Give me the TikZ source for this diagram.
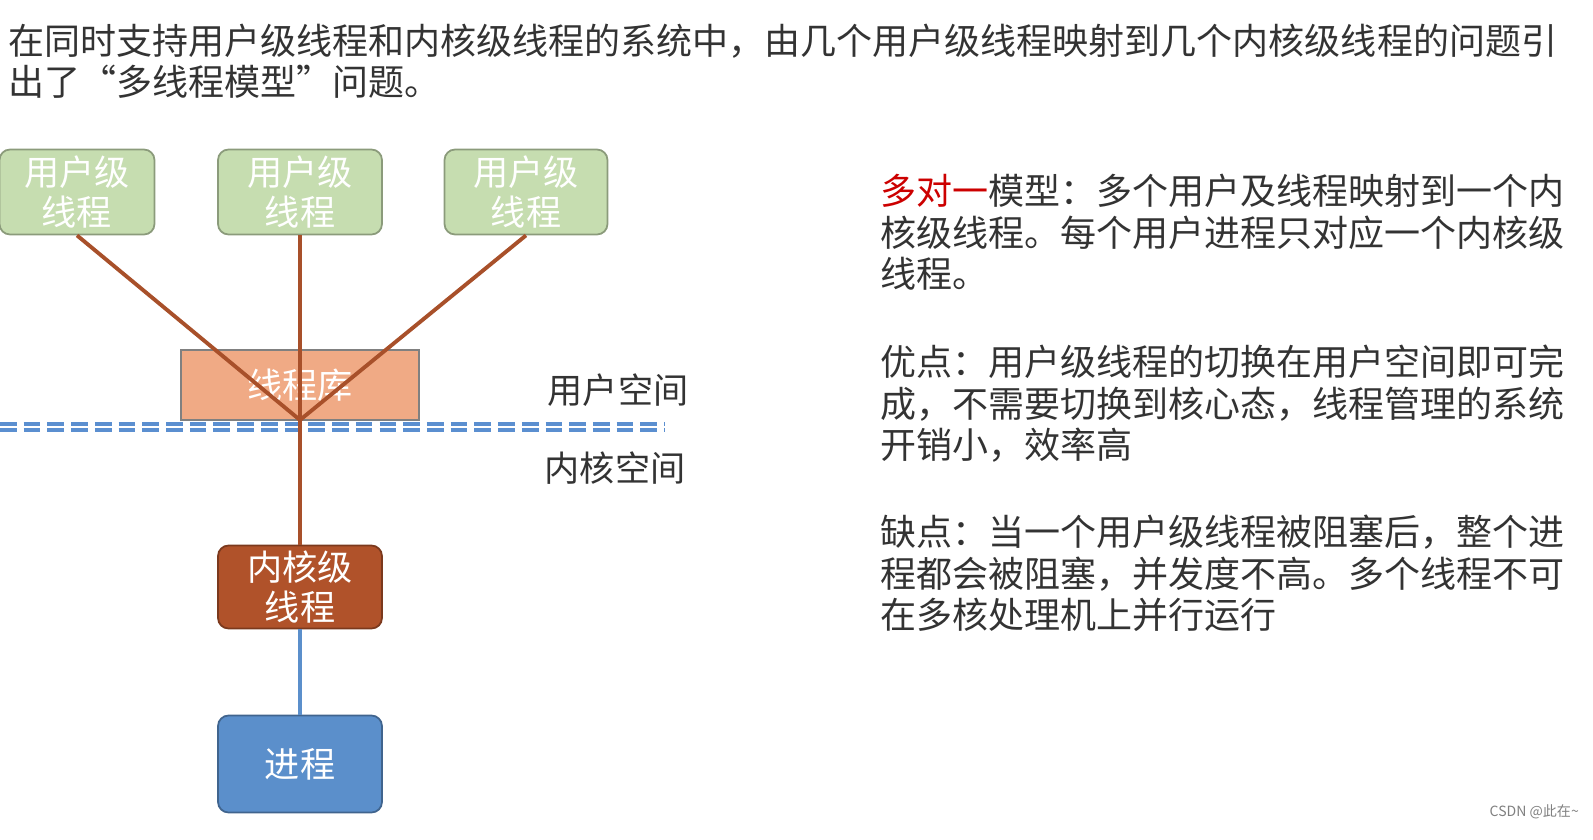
\documentclass[tikz,border=0pt]{standalone}
\usepackage{fontspec}
\setmainfont{Noto Sans CJK SC}
\definecolor{ugreen}{HTML}{C6DDB0}
\definecolor{lib}{HTML}{F0AA85}
\definecolor{brownl}{HTML}{A8502A}
\definecolor{kern}{HTML}{B0522A}
\definecolor{proc}{HTML}{5B8FCB}
\definecolor{dashblue}{HTML}{5B8FD0}
\definecolor{txt}{HTML}{333333}
\begin{document}
\begin{tikzpicture}[x=0.02cm,y=-0.02cm,
  box/.style={draw=#1!70!black,rounded corners=6pt,line width=1pt,align=center,font=\fontsize{20pt}{23pt}\selectfont,inner sep=0pt},
  conn/.style={draw=brownl,line width=2.2pt},
  para/.style={anchor=north west,align=left,font=\fontsize{20.5pt}{23.5pt}\selectfont,text=txt,inner sep=0pt}]
\useasboundingbox (0,0) rectangle (1593,839);
\node[anchor=north west,align=left,text=txt,font=\fontsize{20.5pt}{23pt}\selectfont,inner sep=0pt] (title) at (8,24) {在同时支持用户级线程和内核级线程的系统中，由几个用户级线程映射到几个内核级线程的问题引\\出了“多线程模型”问题。};
\node[box=ugreen,fill=ugreen,text=white,minimum width=155*0.02cm,minimum height=85*0.02cm] (u1) at (77,192) {用户级\\线程};
\node[box=ugreen,fill=ugreen,text=white,minimum width=164*0.02cm,minimum height=85*0.02cm] (u2) at (300,192) {用户级\\线程};
\node[box=ugreen,fill=ugreen,text=white,minimum width=163*0.02cm,minimum height=85*0.02cm] (u3) at (526,192) {用户级\\线程};
\node[draw=gray,line width=1pt,fill=lib,text=white,font=\fontsize{20pt}{23pt}\selectfont,minimum width=238*0.02cm,minimum height=70*0.02cm,inner sep=0pt] (lib) at (300,385) {线程库};
\coordinate (m) at (300,420);
\draw[conn] (u1.south) -- (m);
\draw[conn] (u2.south) -- (m);
\draw[conn] (u3.south) -- (m);
\draw[draw=dashblue,line width=2pt,dash pattern=on 9.5pt off 4pt] (0,424) -- (665,424) (0,430) -- (665,430);
\node[text=txt,font=\fontsize{20pt}{23pt}\selectfont] (us) at (618,390) {用户空间};
\node[text=txt,font=\fontsize{20pt}{23pt}\selectfont] (ks) at (615,468) {内核空间};
\node[box=kern,fill=kern,text=white,minimum width=164*0.02cm,minimum height=83*0.02cm] (k) at (300,587) {内核级\\线程};
\draw[conn] (m) -- (k.north);
\node[box=proc,fill=proc,text=white,minimum width=164*0.02cm,minimum height=97*0.02cm] (p) at (300,764) {进程};
\draw[draw=proc,line width=2.2pt] (k.south) -- (p.north);
\node[para] (t1) at (880,174) {\textcolor{red!80!black}{多对一}模型：多个用户及线程映射到一个内\\核级线程。每个用户进程只对应一个内核级\\线程。};
\node[para] (t2) at (880,345) {优点：用户级线程的切换在用户空间即可完\\成，不需要切换到核心态，线程管理的系统\\开销小，效率高};
\node[para] (t3) at (880,515) {缺点：当一个用户级线程被阻塞后，整个进\\程都会被阻塞，并发度不高。多个线程不可\\在多核处理机上并行运行};
\node[anchor=east,text=gray,font=\fontsize{8pt}{9pt}\selectfont] (wm) at (1585,812) {CSDN @此在\textasciitilde};
\end{tikzpicture}
\end{document}
